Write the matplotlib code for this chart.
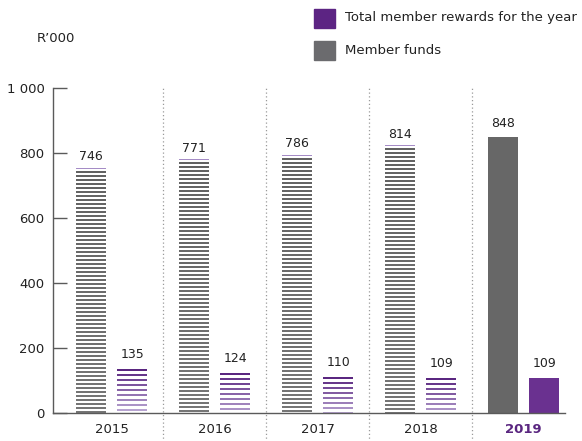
import numpy as np
import matplotlib.pyplot as plt
from matplotlib.colors import to_rgb
from matplotlib.ticker import FuncFormatter

years = ['2015', '2016', '2017', '2018', '2019']
member_funds = [746, 771, 786, 814, 848]
member_rewards = [135, 124, 110, 109, 109]

purple = '#5a2680'
purple_light = '#b7a3d0'
axis_grey = '#5a5a5a'

plt.rcParams['font.family'] = ['DejaVu Sans']

fig = plt.figure(figsize=(5.82, 4.41), dpi=100)
ax = fig.add_axes([53 / 582, 1 - 413 / 441, 512 / 582, 325 / 441])

x = np.arange(len(years))
w = 0.29
off = 0.2
px = 1000 / 325  # data units per pixel


def mix(c1, c2, t):
    a, b = np.array(to_rgb(c1)), np.array(to_rgb(c2))
    return tuple(a + (b - a) * t)


def striped_bar(xc, value, top_col, bottom_col, period, thick, cap=None):
    n = int(value // period) + 1
    for k in range(n):
        t = value - k * period
        if t <= 0:
            break
        b = max(t - thick, 0)
        col = mix(top_col, bottom_col, k / max(n - 1, 1))
        ax.bar(xc, t - b, w, bottom=b, color=col, linewidth=0, antialiased=False)
    if cap:
        ax.bar(xc, 1 * px, w, bottom=value + 2 * px, color=cap, linewidth=0,
               antialiased=False)


for i in range(len(years)):
    if i < len(years) - 1:
        striped_bar(x[i] - off, member_funds[i], '#626262', '#767676',
                    4 * px, 2 * px, cap='#a58cc6')
        striped_bar(x[i] + off, member_rewards[i], purple, purple_light,
                    5 * px, 2 * px)
    else:
        ax.bar(x[i] - off, member_funds[i], w, color='#676767', linewidth=0)
        ax.bar(x[i] + off, member_rewards[i], w, color='#6a3190', linewidth=0)
    ax.text(x[i] - off, member_funds[i] + 24, str(member_funds[i]),
            ha='center', va='bottom', fontsize=9, color='#222222')
    ax.text(x[i] + off, member_rewards[i] + 24, str(member_rewards[i]),
            ha='center', va='bottom', fontsize=9, color='#222222')

# dotted separators between years
for s in x[:-1] + 0.5:
    ax.plot([s, s], [-0.09, 1.0], transform=ax.get_xaxis_transform(),
            ls=(0, (1, 2)), color='#9a9a9a', lw=0.9, clip_on=False)

ax.set_xlim(-0.568, 4.403)
ax.set_ylim(0, 1000)
ax.set_yticks([0, 200, 400, 600, 800, 1000])
ax.yaxis.set_major_formatter(FuncFormatter(lambda v, p: f'{int(v):,}'.replace(',', ' ')))
ax.tick_params(axis='y', direction='in', length=10, width=1, color=axis_grey,
               labelsize=9.5, labelcolor='#222222', pad=6)
ax.set_xticks(x)
ax.set_xticklabels(years)
ax.tick_params(axis='x', length=0, labelsize=9.5, labelcolor='#222222', pad=7)
lbl = ax.get_xticklabels()[-1]
lbl.set_color(purple)
lbl.set_fontweight('bold')

for side in ['top', 'right']:
    ax.spines[side].set_visible(False)
for side in ['left', 'bottom']:
    ax.spines[side].set_color(axis_grey)
    ax.spines[side].set_linewidth(1)

fig.text(37 / 582, 1 - 38 / 441, 'R\u2019000', fontsize=9.5, color='#222222', va='center')

# legend
fig.patches.append(plt.Rectangle((314 / 582, 1 - 28 / 441), 21 / 582, 19 / 441,
                                 transform=fig.transFigure, color='#5c2483'))
fig.patches.append(plt.Rectangle((314 / 582, 1 - 60 / 441), 21 / 582, 19 / 441,
                                 transform=fig.transFigure, color='#6b6b6e'))
fig.text(345 / 582, 1 - 18 / 441, 'Total member rewards for the year', fontsize=9.5,
         color='#222222', va='center')
fig.text(345 / 582, 1 - 51 / 441, 'Member funds', fontsize=9.5, color='#222222', va='center')

fig.savefig('out.png', dpi=100)
